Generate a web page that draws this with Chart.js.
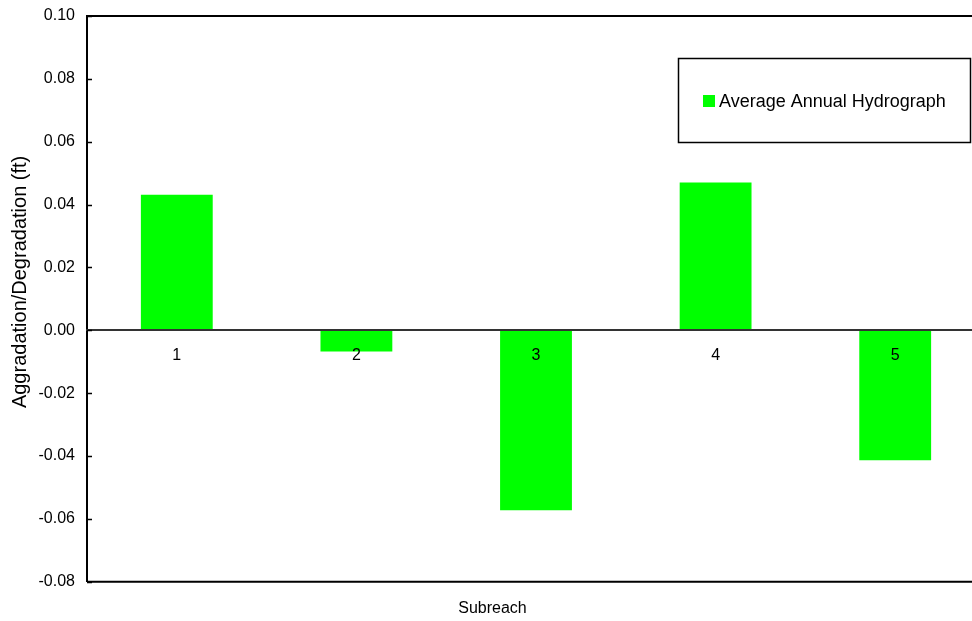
<!DOCTYPE html>
<html>
<head>
<meta charset="utf-8">
<script src="https://cdn.jsdelivr.net/npm/chart.js@4/dist/chart.umd.min.js"></script>
<style>
  html, body { margin: 0; padding: 0; background: #fff; overflow: hidden; }
  #wrap { width: 990px; height: 621px; }
</style>
</head>
<body>
<div id="wrap"><canvas id="c" width="990" height="621"></canvas></div>
<script>
// Subreach numbers along the reach
const subreaches = ['1', '2', '3', '4', '5'];
// Bed change per subreach (ft)
const avgAnnualChange = [0.0431, -0.0067, -0.0572, 0.0470, -0.0413];
const seriesName = 'Average Annual Hydrograph';
const yAxisTitle = 'Aggradation/Degradation (ft)';
const yMin = -0.08, yMax = 0.10, yStep = 0.02;

const FONT = '"Liberation Sans", Arial, Helvetica, sans-serif';
const GREEN = '#00ff00';

// Frame lines, inward y tick marks, y axis title and the boxed legend
const decorations = {
  id: 'decorations',
  afterDraw(chart) {
    const ctx = chart.ctx;
    const a = chart.chartArea;
    const y = chart.scales.y;
    ctx.save();
    ctx.strokeStyle = '#000';
    ctx.lineWidth = 2;
    ctx.beginPath();
    ctx.moveTo(a.left, a.top); ctx.lineTo(a.right, a.top);
    ctx.moveTo(a.left, a.bottom); ctx.lineTo(a.right, a.bottom);
    ctx.stroke();
    ctx.lineWidth = 1.5;
    ctx.beginPath();
    y.ticks.forEach(t => {
      const py = Math.round(y.getPixelForValue(t.value)) + 0.5;
      ctx.moveTo(a.left, py); ctx.lineTo(a.left + 5, py);
    });
    ctx.stroke();

    // y axis title, set a little above the plot's middle
    ctx.save();
    ctx.translate(20, a.top + (a.bottom - a.top) * 0.47);
    ctx.rotate(-Math.PI / 2);
    ctx.fillStyle = '#000';
    ctx.font = '20px ' + FONT;
    ctx.textAlign = 'center';
    ctx.textBaseline = 'middle';
    ctx.fillText(yAxisTitle, 0, 0);
    ctx.restore();

    // legend
    const ds = chart.data.datasets[0];
    const bx = 678, by = 58, bw = 292, bh = 84;
    ctx.fillStyle = '#fff';
    ctx.fillRect(bx, by, bw, bh);
    ctx.lineWidth = 1.5;
    ctx.strokeStyle = '#000';
    ctx.strokeRect(bx + 0.5, by + 0.5, bw, bh);
    ctx.fillStyle = ds.backgroundColor;
    ctx.fillRect(703, 95, 12, 12);
    ctx.fillStyle = '#000';
    ctx.font = '18px ' + FONT;
    ctx.textBaseline = 'alphabetic';
    ctx.textAlign = 'left';
    ctx.fillText(ds.label, 719, 107);
    ctx.restore();
  }
};

new Chart(document.getElementById('c'), {
  type: 'bar',
  data: {
    labels: subreaches,
    datasets: [{
      label: seriesName,
      data: avgAnnualChange,
      backgroundColor: GREEN,
      borderWidth: 0,
      barPercentage: 0.4,
      categoryPercentage: 1.0
    }]
  },
  options: {
    responsive: false,
    animation: false,
    layout: { padding: { top: 16, right: 5, left: 0, bottom: 0 } },
    plugins: {
      legend: { display: false },
      tooltip: { enabled: false },
      title: {
        display: true,
        position: 'bottom',
        text: 'Subreach',
        color: '#000',
        font: { family: FONT, size: 16, weight: 'normal' },
        padding: { top: 17, bottom: 3 }
      }
    },
    scales: {
      x: {
        position: { y: 0 },
        grid: { display: false, drawTicks: false, z: 1 },
        border: { display: true, color: '#333', width: 2, z: 1 },
        ticks: { z: 1, color: '#000', font: { family: FONT, size: 16 }, padding: 16, maxRotation: 0 }
      },
      y: {
        min: yMin,
        max: yMax,
        afterFit(scale) {
          scale.width = 87;
          scale.paddingTop = 0;
          scale.paddingBottom = 0;
        },
        grid: { display: false, drawTicks: false },
        border: { display: true, color: '#000', width: 2 },
        ticks: {
          stepSize: yStep,
          color: '#000',
          padding: 12,
          font: { family: FONT, size: 16 },
          callback: v => Number(v).toFixed(2)
        }
      }
    }
  },
  plugins: [decorations]
});
</script>
</body>
</html>
